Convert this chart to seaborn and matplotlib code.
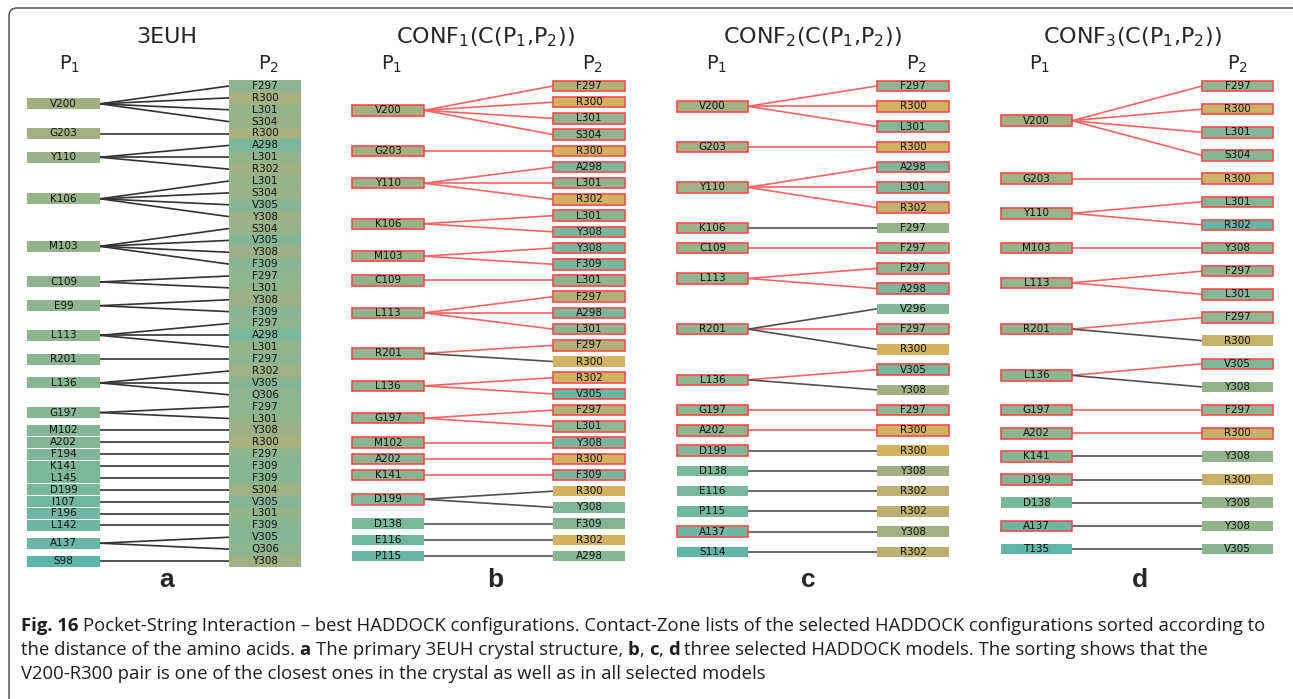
import numpy as np
import pandas as pd
import seaborn as sns
import matplotlib.pyplot as plt
from matplotlib.colors import LinearSegmentedColormap
from matplotlib.patches import Rectangle, FancyBboxPatch

sns.set_theme(style='white')
plt.rcParams['font.family'] = ['DejaVu Sans']
plt.rcParams['mathtext.fontset'] = 'dejavusans'

# ---- panel a : 3EUH crystal ----
a_left = ['V200', 'G203', 'Y110', 'K106', 'M103', 'C109', 'E99', 'L113', 'R201', 'L136', 'G197',
          'M102', 'A202', 'F194', 'K141', 'L145', 'D199', 'I107', 'F196', 'L142', 'A137', 'S98']
a_groups = [4, 1, 3, 4, 4, 2, 2, 3, 1, 3, 2, 1, 1, 1, 1, 1, 1, 1, 1, 1, 2, 1]
a_left_shade = [0.66, 0.66, 0.56, 0.53, 0.5, 0.48, 0.46, 0.44, 0.42, 0.4, 0.4,
                0.37, 0.36, 0.34, 0.32, 0.3, 0.27, 0.22, 0.2, 0.18, 0.15, 0.04]
a_right = ['F297', 'R300', 'L301', 'S304', 'R300', 'A298', 'L301', 'R302', 'L301', 'S304', 'V305',
           'Y308', 'S304', 'V305', 'Y308', 'F309', 'F297', 'L301', 'Y308', 'F309', 'F297', 'A298',
           'L301', 'F297', 'R302', 'V305', 'Q306', 'F297', 'L301', 'Y308', 'R300', 'F297', 'F309',
           'F309', 'S304', 'V305', 'L301', 'F309', 'V305', 'Q306', 'Y308']
a_right_shade = [0.45, 0.7, 0.5, 0.55, 0.7, 0.3, 0.5, 0.6, 0.5, 0.55, 0.38,
                 0.58, 0.55, 0.38, 0.58, 0.4, 0.45, 0.5, 0.58, 0.4, 0.45, 0.3,
                 0.5, 0.45, 0.6, 0.38, 0.45, 0.45, 0.5, 0.58, 0.7, 0.45, 0.4,
                 0.4, 0.6, 0.38, 0.5, 0.4, 0.38, 0.45, 0.6]

# ---- panel b : CONF1 ----
b_left = ['V200', 'G203', 'Y110', 'K106', 'M103', 'C109', 'L113', 'R201', 'L136', 'G197',
          'M102', 'A202', 'K141', 'D199', 'D138', 'E116', 'P115']
b_groups = [4, 1, 3, 2, 2, 1, 3, 2, 2, 2, 1, 1, 1, 2, 1, 1, 1]
b_left_shade = [0.64, 0.62, 0.56, 0.55, 0.55, 0.48, 0.45, 0.45, 0.45, 0.45,
                0.42, 0.42, 0.4, 0.33, 0.3, 0.22, 0.15]
b_left_box = [1, 1, 1, 1, 1, 1, 1, 1, 1, 1, 1, 1, 1, 1, 0, 0, 0]
b_right = ['F297', 'R300', 'L301', 'S304', 'R300', 'A298', 'L301', 'R302', 'L301', 'Y308',
           'Y308', 'F309', 'L301', 'F297', 'A298', 'L301', 'F297', 'R300', 'R302', 'V305',
           'F297', 'L301', 'Y308', 'R300', 'F309', 'R300', 'Y308', 'F309', 'R302', 'A298']
b_right_shade = [0.75, 0.95, 0.45, 0.45, 0.95, 0.3, 0.45, 0.95, 0.45, 0.3,
                 0.3, 0.3, 0.45, 0.75, 0.3, 0.45, 0.75, 0.95, 0.95, 0.18,
                 0.75, 0.45, 0.3, 0.95, 0.3, 0.95, 0.33, 0.38, 0.95, 0.4]
b_red = [1, 1, 1, 1, 1, 1, 1, 1, 1, 1, 1, 1, 1, 1, 1, 1, 1, 0, 1, 1,
         1, 1, 1, 1, 1, 0, 0, 0, 0, 0]

# ---- panel c : CONF2 ----
c_left = ['V200', 'G203', 'Y110', 'K106', 'C109', 'L113', 'R201', 'L136', 'G197', 'A202',
          'D199', 'D138', 'E116', 'P115', 'A137', 'S114']
c_groups = [3, 1, 3, 1, 1, 2, 3, 2, 1, 1, 1, 1, 1, 1, 1, 1]
c_left_shade = [0.65, 0.65, 0.6, 0.55, 0.5, 0.46, 0.45, 0.45, 0.43, 0.42,
                0.33, 0.3, 0.26, 0.22, 0.18, 0.08]
c_left_box = [1, 1, 1, 1, 1, 1, 1, 1, 1, 1, 1, 0, 0, 0, 1, 0]
c_right = ['F297', 'R300', 'L301', 'R300', 'A298', 'L301', 'R302', 'F297', 'F297', 'F297',
           'A298', 'V296', 'F297', 'R300', 'V305', 'Y308', 'F297', 'R300', 'R300', 'Y308',
           'R302', 'R302', 'Y308', 'R302']
c_right_shade = [0.45, 0.95, 0.35, 0.95, 0.3, 0.35, 0.85, 0.5, 0.45, 0.45,
                 0.3, 0.35, 0.45, 0.95, 0.28, 0.65, 0.45, 0.95, 0.95, 0.65,
                 0.82, 0.82, 0.65, 0.82]
c_red = [1, 1, 1, 1, 1, 1, 1, 0, 1, 1, 1, 0, 1, 0, 1, 0, 1, 1, 0, 0, 0, 0, 0, 0]

# ---- panel d : CONF3 ----
d_left = ['V200', 'G203', 'Y110', 'M103', 'L113', 'R201', 'L136', 'G197', 'A202', 'K141',
          'D199', 'D138', 'A137', 'T135']
d_groups = [4, 1, 2, 1, 2, 2, 2, 1, 1, 1, 1, 1, 1, 1]
d_left_shade = [0.63, 0.6, 0.55, 0.5, 0.45, 0.45, 0.45, 0.42, 0.42, 0.4,
                0.35, 0.3, 0.2, 0.08]
d_left_box = [1, 1, 1, 1, 1, 1, 1, 1, 1, 1, 1, 0, 1, 0]
d_right = ['F297', 'R300', 'L301', 'S304', 'R300', 'L301', 'R302', 'Y308', 'F297', 'L301',
           'F297', 'R300', 'V305', 'Y308', 'F297', 'R300', 'Y308', 'R300', 'Y308', 'Y308', 'V305']
d_right_shade = [0.45, 0.9, 0.35, 0.4, 0.9, 0.35, 0.08, 0.45, 0.45, 0.35,
                 0.45, 0.88, 0.33, 0.5, 0.45, 0.88, 0.5, 0.88, 0.5, 0.5, 0.42]
d_red = [1, 1, 1, 1, 1, 1, 1, 1, 1, 1, 1, 0, 1, 0, 1, 1, 0, 0, 0, 0, 0]

titles = ['3EUH', r'CONF$_1$(C(P$_1$,P$_2$))', r'CONF$_2$(C(P$_1$,P$_2$))', r'CONF$_3$(C(P$_1$,P$_2$))']
letters = ['a', 'b', 'c', 'd']

caption1 = [('Fig. 16', 'bold'), (' Pocket-String Interaction \u2013 best HADDOCK configurations. Contact-Zone lists of the selected HADDOCK configurations sorted according to', 'normal')]
caption2 = [('the distance of the amino acids. ', 'normal'), ('a', 'bold'), (' The primary 3EUH crystal structure, ', 'normal'),
            ('b', 'bold'), (', ', 'normal'), ('c', 'bold'), (', ', 'normal'), ('d', 'bold'),
            (' three selected HADDOCK models. The sorting shows that the', 'normal')]
caption3 = [('V200-R300 pair is one of the closest ones in the crystal as well as in all selected models', 'normal')]

# colour scale of the boxes (teal -> green -> olive -> orange)
cmap = LinearSegmentedColormap.from_list('dist', [(0.0, '#55b5ae'), (0.3, '#7bb79a'), (0.5, '#93b48b'),
                                                  (0.7, '#a9af7e'), (1.0, '#dab25c')])
RED = '#ff4a4a'

fig = plt.figure(figsize=(12.93, 6.99), dpi=100)
ax = fig.add_axes([0, 0, 1, 1])
ax.set_xlim(0, 1293)
ax.set_ylim(699, 0)


def drawPanel(left, groups, lshade, lbox, right, rshade, red, lay):
	n = len(right)
	ys = np.linspace(lay['top'], lay['bot'], n)
	owner = np.repeat(np.arange(len(left)), groups)
	ly = [ys[owner == g].mean() for g in range(len(left))]

	rows = []
	for i in range(n):
		kind = 'dark' if red is None else ('red' if red[i] else 'grey')
		rows.append({'link': i, 'x': lay['lx1'], 'y': ly[owner[i]], 'kind': kind})
		rows.append({'link': i, 'x': lay['rx0'], 'y': ys[i], 'kind': kind})
	links = pd.DataFrame(rows)
	sns.lineplot(data=links, x='x', y='y', units='link', estimator=None, hue='kind',
				 palette={'dark': '#333333', 'red': '#ff6262', 'grey': '#505050'},
				 lw=1.2, legend=False, sort=False, ax=ax, zorder=1)

	rh = lay['rh']
	for i in range(n):
		ec = RED if (red is not None and red[i]) else 'none'
		ax.add_patch(Rectangle((lay['rx0'], ys[i] - rh / 2), lay['rx1'] - lay['rx0'], rh,
							   facecolor=cmap(rshade[i]), edgecolor=ec, lw=1.2, zorder=2))
		ax.text((lay['rx0'] + lay['rx1']) / 2, ys[i], right[i], ha='center', va='center',
				fontsize=7.5, color='#111111', zorder=3)
	lh = lay['lh']
	for g in range(len(left)):
		ec = RED if (lbox is not None and lbox[g]) else 'none'
		ax.add_patch(Rectangle((lay['lx0'], ly[g] - lh / 2), lay['lx1'] - lay['lx0'], lh,
							   facecolor=cmap(lshade[g]), edgecolor=ec, lw=1.2, zorder=2))
		ax.text((lay['lx0'] + lay['lx1']) / 2, ly[g], left[g], ha='center', va='center',
				fontsize=7.5, color='#111111', zorder=3)

	ax.text(lay['tx'], 43, lay['title'], ha='center', va='baseline', fontsize=16)
	ax.text(lay['p1'], 70, r'P$_1$', ha='center', va='baseline', fontsize=14)
	ax.text(lay['p2'], 70, r'P$_2$', ha='center', va='baseline', fontsize=14)
	ax.text(lay['letx'], 587, lay['letter'], ha='center', va='baseline', fontsize=19,
			fontweight='bold', family='Liberation Sans')


layouts = [
	dict(lx0=27, lx1=100, rx0=229, rx1=301, top=86, bot=561, rh=11.9, lh=11, tx=167, p1=70, p2=269, letx=167),
	dict(lx0=352, lx1=424, rx0=553, rx1=625, top=86, bot=556, rh=10.5, lh=10.5, tx=485, p1=392, p2=593, letx=495),
	dict(lx0=677, lx1=748, rx0=877, rx1=949, top=86, bot=552, rh=10.5, lh=10.5, tx=812, p1=717, p2=917, letx=808),
	dict(lx0=1001, lx1=1072, rx0=1202, rx1=1273, top=86, bot=549, rh=10.5, lh=10.5, tx=1132, p1=1040, p2=1238, letx=1140),
]
for lay, t, l in zip(layouts, titles, letters):
	lay['title'] = t
	lay['letter'] = l

drawPanel(a_left, a_groups, a_left_shade, None, a_right, a_right_shade, None, layouts[0])
drawPanel(b_left, b_groups, b_left_shade, b_left_box, b_right, b_right_shade, b_red, layouts[1])
drawPanel(c_left, c_groups, c_left_shade, c_left_box, c_right, c_right_shade, c_red, layouts[2])
drawPanel(d_left, d_groups, d_left_shade, d_left_box, d_right, d_right_shade, d_red, layouts[3])

# frame (only left and top edges are visible)
ax.add_patch(FancyBboxPatch((9, 8), 1400, 800, boxstyle='round,pad=0,rounding_size=8',
							facecolor='none', edgecolor='#555555', lw=1.1, zorder=0))

# caption, mixing bold and regular fragments
renderer = fig.canvas.get_renderer()
CAPFONT = 'Open Sans'
CAPSIZE = 13.3


def widthOf(s, w):
	t = ax.text(0, 0, s, fontsize=CAPSIZE, fontweight=w, family=CAPFONT)
	bw = t.get_window_extent(renderer=renderer).width
	t.remove()
	return bw


spaceW = widthOf('a a', 'normal') - widthOf('aa', 'normal')


def richLine(parts, x, y):
	for s, w in parts:
		lead = len(s) - len(s.lstrip(' '))
		trail = len(s) - len(s.rstrip(' '))
		core = s.strip(' ')
		x += lead * spaceW
		ax.text(x, y, core, fontsize=CAPSIZE, fontweight=w, family=CAPFONT, ha='left', va='baseline',
				color='#1e1e1e')
		x += widthOf(core, w) + trail * spaceW


richLine(caption1, 21, 631)
richLine(caption2, 21, 655)
richLine(caption3, 21, 679)

ax.axis('off')
fig.savefig('out.png', dpi=100)
